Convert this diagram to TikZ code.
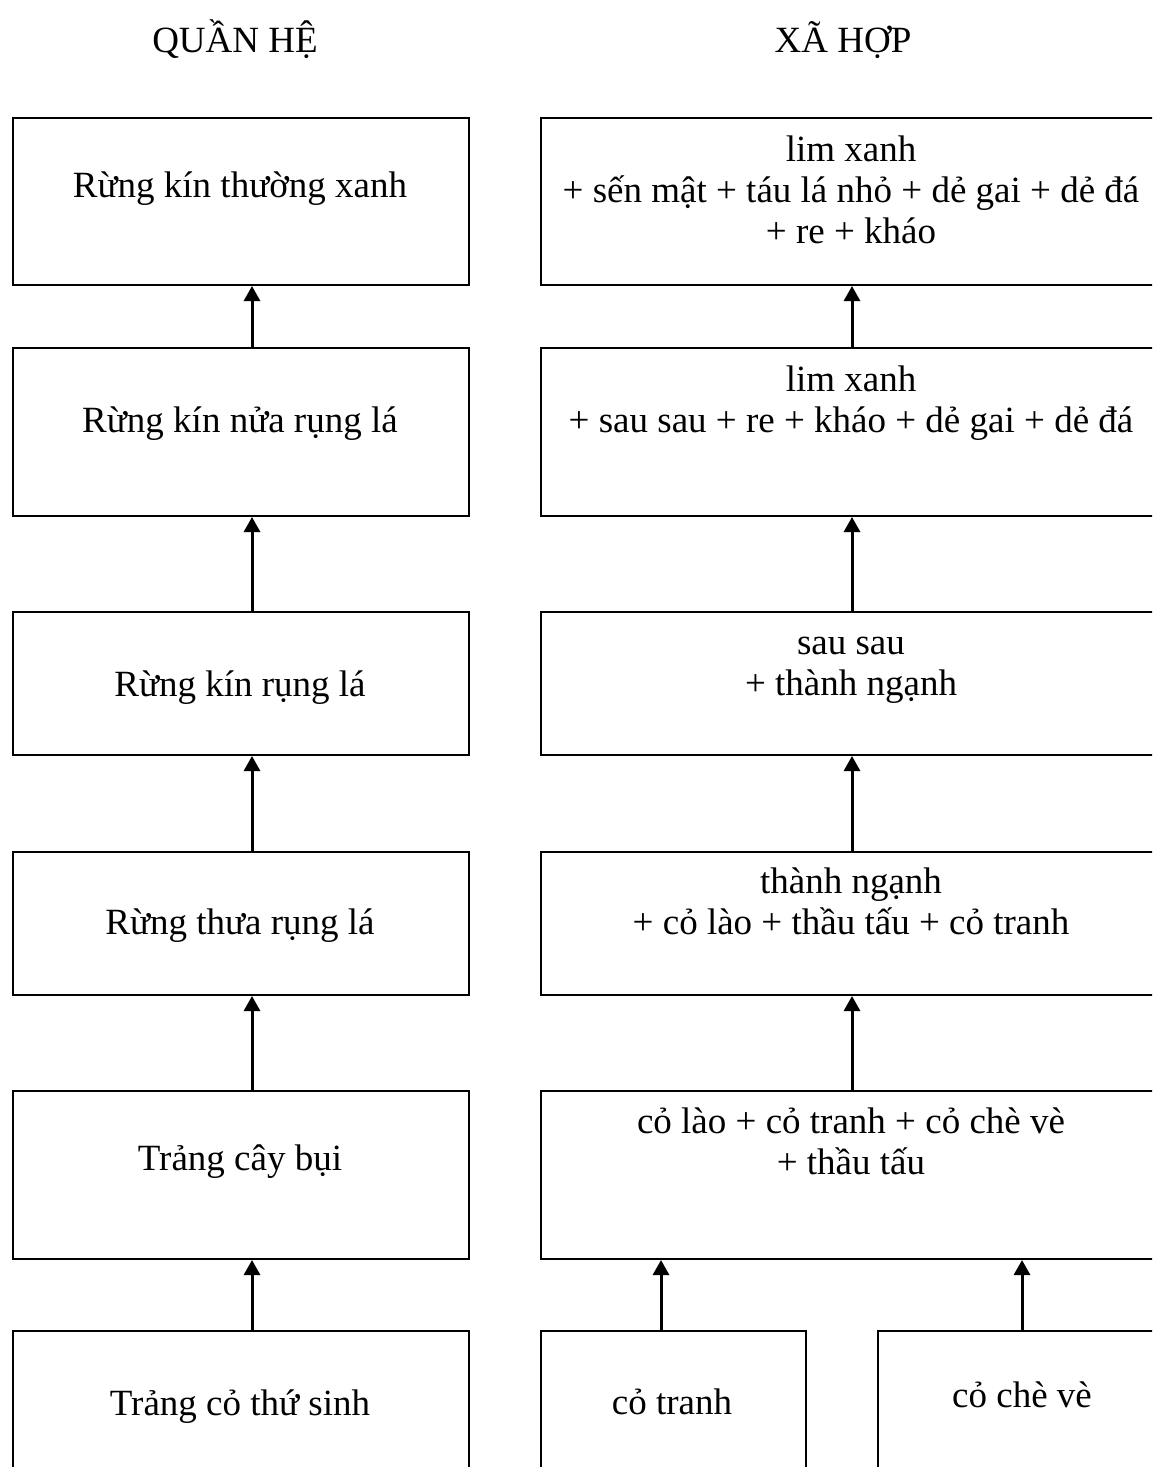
\documentclass[tikz,border=0pt]{standalone}
\usepackage{fontspec}
\setmainfont{Liberation Serif}
\usetikzlibrary{arrows.meta}
\newcommand\diagfont{\fontsize{37}{41}\selectfont\lineskiplimit=-100pt\relax\lineskip=0pt\relax}
\begin{document}
\begin{tikzpicture}[x=1pt,y=-1pt,
  box/.style={draw, line width=2pt, rectangle, anchor=north west, inner sep=0pt},
  lbl/.style={anchor=base, align=center, inner sep=0pt, font=\diagfont},
  arr/.style={-{Triangle[width=16pt,length=15pt]}, line width=3pt},
]
\useasboundingbox (0,0) rectangle (1152,1467);
\clip (0,0) rectangle (1152,1467);

% titles
\node[lbl] (t1) at (235,52) {QUẦN HỆ};
\node[lbl] (t2) at (843,52) {XÃ HỢP};

% left column boxes
\node[box, minimum width=456pt, minimum height=167pt] (l1) at (12,117) {};
\node[box, minimum width=456pt, minimum height=168pt] (l2) at (12,347) {};
\node[box, minimum width=456pt, minimum height=143pt] (l3) at (12,611) {};
\node[box, minimum width=456pt, minimum height=143pt] (l4) at (12,851) {};
\node[box, minimum width=456pt, minimum height=168pt] (l5) at (12,1090) {};
\node[box, minimum width=456pt, minimum height=180pt] (l6) at (12,1330) {};

% right column boxes
\node[box, minimum width=622pt, minimum height=167pt] (r1) at (540,117) {};
\node[box, minimum width=622pt, minimum height=168pt] (r2) at (540,347) {};
\node[box, minimum width=622pt, minimum height=143pt] (r3) at (540,611) {};
\node[box, minimum width=622pt, minimum height=143pt] (r4) at (540,851) {};
\node[box, minimum width=622pt, minimum height=168pt] (r5) at (540,1090) {};
\node[box, minimum width=265pt, minimum height=180pt] (r6a) at (540,1330) {};
\node[box, minimum width=290pt, minimum height=180pt] (r6b) at (877,1330) {};

% left texts
\node[lbl] (lt1) at (240,197) {Rừng kín thường xanh};
\node[lbl] (lt2) at (240,432) {Rừng kín nửa rụng lá};
\node[lbl] (lt3) at (240,696) {Rừng kín rụng lá};
\node[lbl] (lt4) at (240,934) {Rừng thưa rụng lá};
\node[lbl] (lt5) at (240,1170) {Trảng cây bụi};
\node[lbl] (lt6) at (240,1415) {Trảng cỏ thứ sinh};

% right texts (base anchor = baseline of the last line)
\node[lbl] (rt1) at (851,243) {lim xanh\\+ sến mật + táu lá nhỏ + dẻ gai + dẻ đá\\+ re + kháo};
\node[lbl] (rt2) at (851,432) {lim xanh\\+ sau sau + re + kháo + dẻ gai + dẻ đá};
\node[lbl] (rt3) at (851,695) {sau sau\\+ thành ngạnh};
\node[lbl] (rt4) at (851,934) {thành ngạnh\\+ cỏ lào + thầu tấu + cỏ tranh};
\node[lbl] (rt5) at (851,1174) {cỏ lào + cỏ tranh + cỏ chè vè\\+ thầu tấu};
\node[lbl] (rt6a) at (672,1414) {cỏ tranh};
\node[lbl] (rt6b) at (1022,1407) {cỏ chè vè};

% arrow columns
\coordinate (xl) at (252,0);
\coordinate (xr) at (852,0);
\coordinate (xa) at (661,0);
\coordinate (xb) at (1022,0);

\draw[arr] (xl |- l2.north) -- (xl |- l1.south);
\draw[arr] (xl |- l3.north) -- (xl |- l2.south);
\draw[arr] (xl |- l4.north) -- (xl |- l3.south);
\draw[arr] (xl |- l5.north) -- (xl |- l4.south);
\draw[arr] (xl |- l6.north) -- (xl |- l5.south);

\draw[arr] (xr |- r2.north) -- (xr |- r1.south);
\draw[arr] (xr |- r3.north) -- (xr |- r2.south);
\draw[arr] (xr |- r4.north) -- (xr |- r3.south);
\draw[arr] (xr |- r5.north) -- (xr |- r4.south);
\draw[arr] (xa |- r6a.north) -- (xa |- r5.south);
\draw[arr] (xb |- r6b.north) -- (xb |- r5.south);
\end{tikzpicture}
\end{document}
